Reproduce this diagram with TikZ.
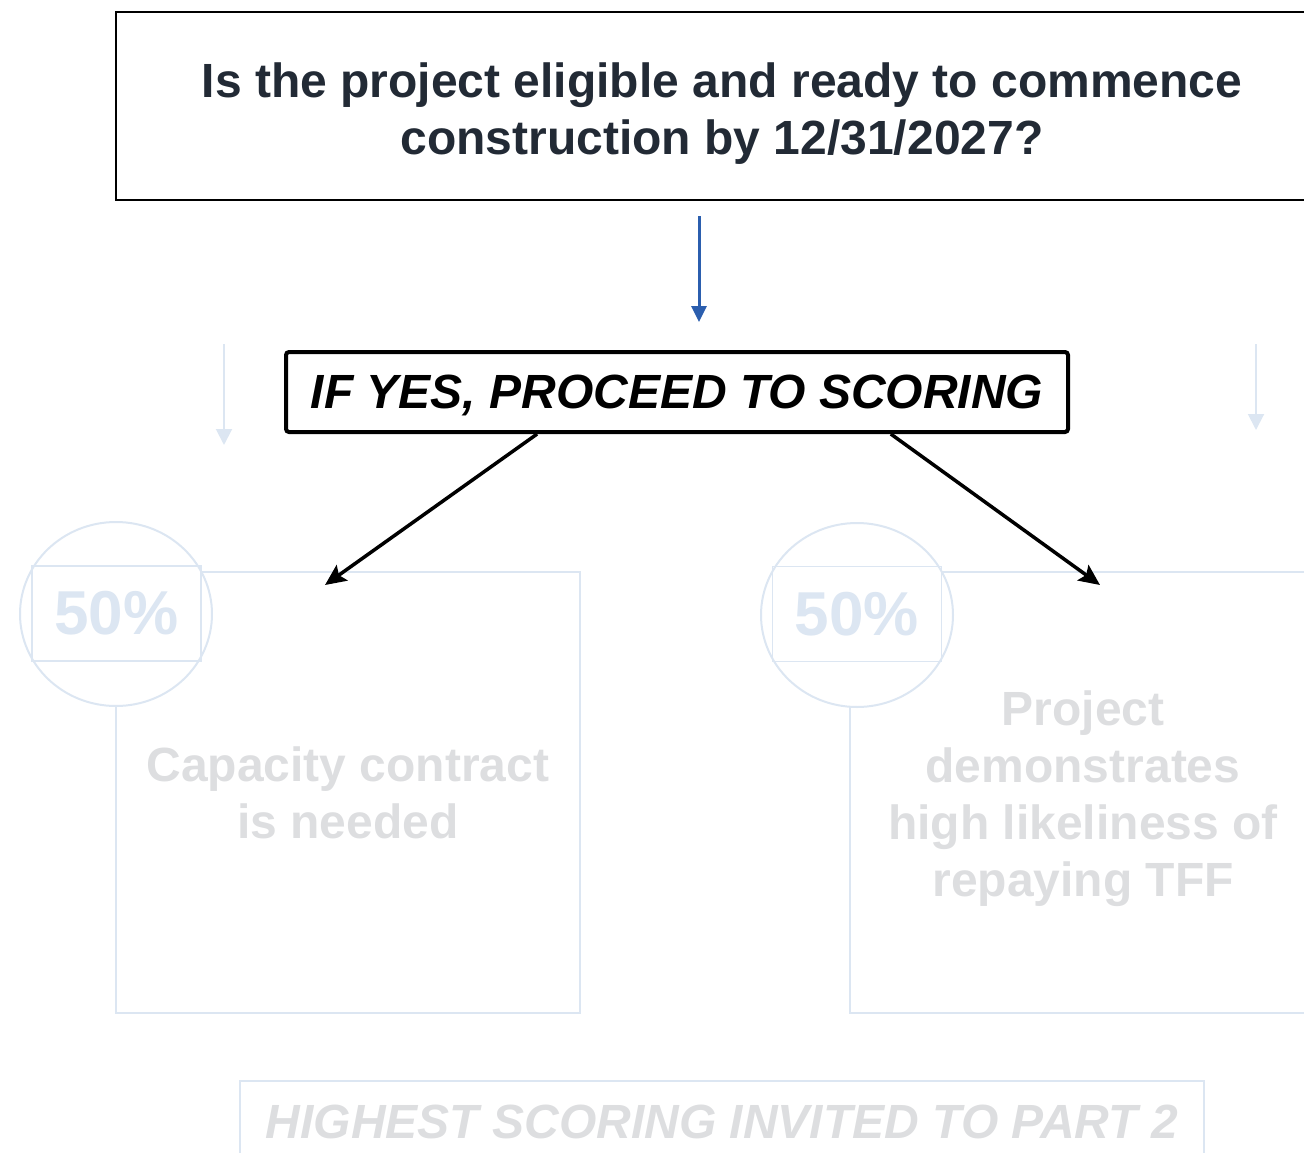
\documentclass[tikz,border=0pt]{standalone}
\usepackage{fontspec}
\setmainfont{Liberation Sans}
\usetikzlibrary{arrows.meta}
\usetikzlibrary{shapes.geometric}
\usetikzlibrary{calc}
\definecolor{ink}{HTML}{222A35}
\definecolor{paleblue}{HTML}{DCE6F2}
\definecolor{palegrey}{HTML}{DDDEE0}
\definecolor{arrowblue}{HTML}{2B5EAE}
\tikzset{bigfont/.style={font=\bfseries\fontsize{48}{57}\selectfont},
 question/.style={bigfont,draw=black,line width=2.5pt,minimum width=1212pt,
   minimum height=188pt,align=center,text=ink},
 verdict/.style={font=\bfseries\itshape\fontsize{48}{57}\selectfont,draw=black,
   line width=4pt,rounded corners=3pt,minimum width=782pt,minimum height=80pt},
 scorebox/.style={bigfont,draw=paleblue,line width=2pt,align=center,text=palegrey,
   minimum height=441pt},
 ring/.style={ellipse,draw=paleblue,fill=white,line width=2pt,
   minimum width=192pt,minimum height=184pt,inner sep=0pt},
 tag/.style={draw=paleblue,line width=1.5pt,minimum width=169pt,minimum height=95pt,
   inner sep=0pt,text=paleblue,font=\bfseries\fontsize{62}{70}\selectfont},
 faded/.style={draw=paleblue,line width=2pt,-{Triangle[width=16pt,length=16pt]}},
 yesarrow/.style={draw=black,line width=3.5pt,-{Stealth[width=19pt,length=21pt,inset=4pt]}},
 }

\begin{document}
\begin{tikzpicture}[x=1pt,y=-1pt]
        \useasboundingbox (0,0) rectangle (1304,1153);
        \clip (0,0) rectangle (1304,1153);

        \node[question] (question) at (722,106)
          {\rule{0pt}{50pt}Is the project eligible and ready to commence\\construction by 12/31/2027?};
        \node[verdict] (ifyes) at (677,392) {\rule{0pt}{41pt}IF YES, PROCEED TO SCORING};

        \coordinate (blueTip) at (699,322);
        \draw[arrowblue,line width=3pt,-{Triangle[width=15pt,length=16pt]},shorten <=15pt]
          (question.south -| blueTip) -- (blueTip);

        \coordinate (fadeLtop) at (224,344);
        \coordinate (fadeLtip) at (224,445);
        \coordinate (fadeRtop) at (1256,344);
        \coordinate (fadeRtip) at (1256,430);
        \draw[faded] (fadeLtop) -- (fadeLtip);
        \draw[faded] (fadeRtop) -- (fadeRtip);

        \node[scorebox,minimum width=464pt] (capacity) at (348,792.5)
          {Capacity contract\\is needed};
        \node[scorebox,minimum width=466pt] (repay) at (1083,792.5)
          {\rule{0pt}{47pt}Project\\demonstrates\\high likeliness of\\repaying TFF};

        \node[ring] (ringL) at (116,614) {};
        \node[tag] (pctL) at (116.5,613.5) {50\%};
        \node[ring] (ringR) at (857,615) {};
        \node[tag] (pctR) at (857,614) {50\%};

        \coordinate (capTip) at (325,585);
        \coordinate (repayTip) at (1100,585);
        \draw[yesarrow] ($(ifyes.south west)!0.322!(ifyes.south east)$) -- (capTip);
        \draw[yesarrow] ($(ifyes.south west)!0.772!(ifyes.south east)$) -- (repayTip);

        \node[font=\bfseries\itshape\fontsize{48}{57}\selectfont,draw=paleblue,line width=2pt,
          text=palegrey,minimum width=964pt,minimum height=81pt] (part2) at (722,1121.5)
          {HIGHEST SCORING INVITED TO PART 2};
    \end{tikzpicture}
\end{document}
